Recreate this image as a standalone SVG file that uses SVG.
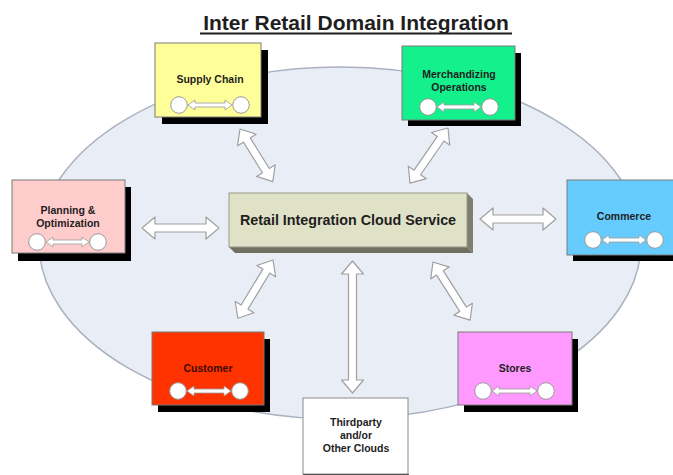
<svg xmlns="http://www.w3.org/2000/svg" width="673" height="475" viewBox="0 0 673 475">
<style>
.t{font-family:"Liberation Sans",Arial,sans-serif;font-weight:bold;text-anchor:middle;fill:#1e1e1e}
.n{font-size:10.5px}
.box{stroke:#7a7a7a;stroke-width:1}
.sh{fill:#000}
.c{fill:#fff;stroke:#9a9a9a;stroke-width:1}
.sa{fill:#fff;stroke:#9a9a9a;stroke-width:0.8}
.ba{fill:#fff;stroke:#a0a0a0;stroke-width:1.2;stroke-linejoin:round}
</style>
<rect width="673" height="475" fill="#fff"/>
<ellipse cx="340" cy="243" rx="301" ry="176" fill="#e9edf5" stroke="#aab1c0" stroke-width="1.5"/>
<g id="title">
<text class="t" x="356" y="30" font-size="21">Inter Retail Domain Integration</text>
<line x1="200" y1="33.5" x2="512" y2="33.5" stroke="#1e1e1e" stroke-width="2"/>
</g>
<g id="connectors">
<path class="ba" transform="translate(240,129) rotate(58.1)" d="M0,0 L13,-11 L13,-4 L49,-4 L49,-11 L62,0 L49,11 L49,4 L13,4 L13,11 Z"/>
<path class="ba" transform="translate(448,128) rotate(124.6)" d="M0,0 L13,-11 L13,-4 L54,-4 L54,-11 L67,0 L54,11 L54,4 L13,4 L13,11 Z"/>
<path class="ba" transform="translate(142,228)" d="M0,0 L13,-11 L13,-4 L64,-4 L64,-11 L77,0 L64,11 L64,4 L13,4 L13,11 Z"/>
<path class="ba" transform="translate(480,219)" d="M0,0 L13,-11 L13,-4 L63,-4 L63,-11 L76,0 L63,11 L63,4 L13,4 L13,11 Z"/>
<path class="ba" transform="translate(273,260) rotate(121.1)" d="M0,0 L13,-11 L13,-4 L55,-4 L55,-11 L68,0 L55,11 L55,4 L13,4 L13,11 Z"/>
<path class="ba" transform="translate(352.5,261) rotate(90)" d="M0,0 L13,-11 L13,-4 L119,-4 L119,-11 L132,0 L119,11 L119,4 L13,4 L13,11 Z"/>
<path class="ba" transform="translate(433,262) rotate(57.5)" d="M0,0 L13,-11 L13,-4 L56,-4 L56,-11 L69,0 L56,11 L56,4 L13,4 L13,11 Z"/>
</g>
<g id="central">
<polygon points="467,193 473,199 473,253 467,247" fill="#7d7e6c"/>
<polygon points="229,247 467,247 473,253 235,253" fill="#6f7060"/>
<rect x="229" y="193" width="238" height="54" fill="#dfe2c7" stroke="#9a9a8a" stroke-width="1"/>
<text class="t" x="348" y="225" font-size="14.3">Retail Integration Cloud Service</text>
</g>
<g id="supply-chain">
<rect class="sh" x="162" y="50" width="106" height="74"/>
<rect class="box" x="155" y="43" width="106" height="74" fill="#ffff99"/>
<text class="t n" x="210" y="83">Supply Chain</text>
<circle class="c" cx="179" cy="105" r="8.3"/><circle class="c" cx="241" cy="105" r="8.3"/>
<path class="sa" d="M188,105 l7,-5 v3 h30 v-3 l7,5 l-7,5 v-3 h-30 v3 z"/>
</g>
<g id="merchandizing">
<rect class="sh" x="408" y="53" width="113" height="73"/>
<rect class="box" x="402" y="46" width="113" height="74" fill="#14f08c"/>
<text class="t n" x="459" y="78">Merchandizing</text>
<text class="t n" x="459" y="91">Operations</text>
<circle class="c" cx="428" cy="107" r="8.3"/><circle class="c" cx="490" cy="107" r="8.3"/>
<path class="sa" d="M437,107 l7,-5 v3 h30 v-3 l7,5 l-7,5 v-3 h-30 v3 z"/>
</g>
<g id="planning">
<rect class="sh" x="18" y="187" width="113" height="74"/>
<rect class="box" x="12" y="180" width="113" height="73" fill="#ffcccc"/>
<text class="t n" x="68" y="214">Planning &amp;</text>
<text class="t n" x="68" y="227">Optimization</text>
<circle class="c" cx="37" cy="242" r="8.3"/><circle class="c" cx="98" cy="242" r="8.3"/>
<path class="sa" d="M46,242 l7,-5 v3 h29 v-3 l7,5 l-7,5 v-3 h-29 v3 z"/>
</g>
<g id="commerce">
<rect class="sh" x="573" y="187" width="114" height="74"/>
<rect class="box" x="567" y="180" width="114" height="75" fill="#66ccff"/>
<text class="t n" x="624" y="220">Commerce</text>
<circle class="c" cx="593" cy="240" r="8.3"/><circle class="c" cx="655" cy="240" r="8.3"/>
<path class="sa" d="M602,240 l7,-5 v3 h30 v-3 l7,5 l-7,5 v-3 h-30 v3 z"/>
</g>
<g id="customer">
<rect class="sh" x="158" y="339" width="112" height="73"/>
<rect class="box" x="152" y="332" width="112" height="73" fill="#ff3300"/>
<text class="t n" x="208" y="372" style="fill:#3d0a00">Customer</text>
<circle class="c" cx="178" cy="391" r="8.3"/><circle class="c" cx="240" cy="391" r="8.3"/>
<path class="sa" d="M187,391 l7,-5 v3 h30 v-3 l7,5 l-7,5 v-3 h-30 v3 z"/>
</g>
<g id="stores">
<rect class="sh" x="464" y="339" width="114" height="73"/>
<rect class="box" x="458" y="332" width="114" height="73" fill="#ff99ff"/>
<text class="t n" x="515" y="372">Stores</text>
<circle class="c" cx="483" cy="391" r="8.3"/><circle class="c" cx="546" cy="391" r="8.3"/>
<path class="sa" d="M492,391 l7,-5 v3 h31 v-3 l7,5 l-7,5 v-3 h-31 v3 z"/>
</g>
<g id="thirdparty">
<rect x="303" y="398" width="105" height="76" fill="#fff" stroke="#8a8a8a" stroke-width="1"/>
<line x1="303" y1="474.5" x2="409" y2="474.5" stroke="#555" stroke-width="1"/>
<text class="t n" x="356" y="426">Thirdparty</text>
<text class="t n" x="356" y="439">and/or</text>
<text class="t n" x="356" y="452">Other Clouds</text>
</g>
</svg>
